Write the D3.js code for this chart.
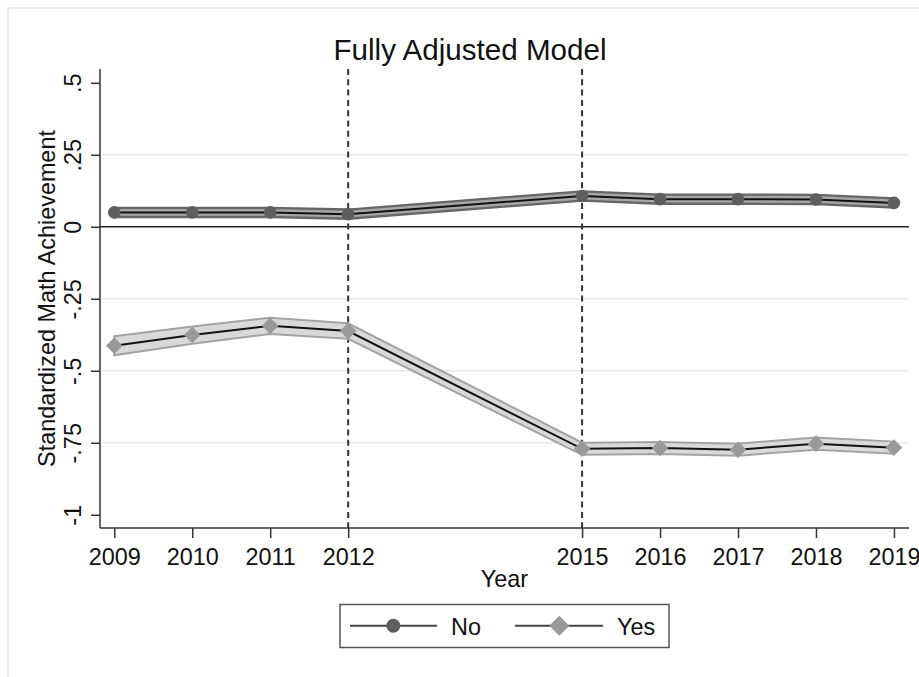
<!DOCTYPE html>
<html>
<head>
<meta charset="utf-8">
<script src="https://cdn.jsdelivr.net/npm/d3@7"></script>
<style>
  html, body { margin: 0; padding: 0; background: #fff; }
  svg { display: block; font-family: "Liberation Sans", Arial, sans-serif; }
</style>
</head>
<body>
<svg id="chart" width="919" height="677"></svg>
<script>
// Survey years and model estimates with confidence bounds
const years = [2009, 2010, 2011, 2012, 2015, 2016, 2017, 2018, 2019];

const noEst = [0.050, 0.050, 0.050, 0.044, 0.107, 0.096, 0.096, 0.095, 0.083];
const noLo  = [0.034, 0.034, 0.034, 0.028, 0.091, 0.080, 0.080, 0.079, 0.067];
const noHi  = [0.066, 0.066, 0.066, 0.060, 0.123, 0.112, 0.112, 0.111, 0.099];

const yesEst = [-0.413, -0.376, -0.344, -0.362, -0.771, -0.768, -0.774, -0.753, -0.767];
const yesLo  = [-0.446, -0.406, -0.372, -0.389, -0.792, -0.789, -0.795, -0.774, -0.788];
const yesHi  = [-0.380, -0.346, -0.316, -0.335, -0.750, -0.747, -0.753, -0.732, -0.746];

const yTicks = [0.5, 0.25, 0, -0.25, -0.5, -0.75, -1];
const yTickLabels = [".5", ".25", "0", "-.25", "-.5", "-.75", "-1"];
const gridValues = [0.25, -0.25, -0.5, -0.75];
const policyYears = [2012, 2015];

const seriesNames = ["No", "Yes"];

const svg = d3.select("#chart");
const W = 919, H = 677;
const FONT = 23.4;

// outer graph region frame
svg.append("rect").attr("x", 8).attr("y", 8).attr("width", W + 20).attr("height", H + 20)
  .attr("fill", "#fff").attr("stroke", "#ececec").attr("stroke-width", 2);

const plot = { left: 100, right: 909, top: 69, bottom: 528 };

const x = d3.scaleLinear().domain([2008.817, 2019.193]).range([plot.left, plot.right]);
const y = d3.scaleLinear().domain([-1.046, 0.548]).range([plot.bottom, plot.top]);

// gridlines
svg.append("g").selectAll("line").data(gridValues).join("line")
  .attr("x1", plot.left).attr("x2", plot.right)
  .attr("y1", d => y(d)).attr("y2", d => y(d))
  .attr("stroke", "#e9e9e9").attr("stroke-width", 1.5);

// zero reference line
svg.append("line")
  .attr("x1", plot.left).attr("x2", plot.right)
  .attr("y1", y(0)).attr("y2", y(0))
  .attr("stroke", "#222").attr("stroke-width", 1.5);

// policy change markers
svg.append("g").selectAll("line").data(policyYears).join("line")
  .attr("x1", d => x(d)).attr("x2", d => x(d))
  .attr("y1", plot.top).attr("y2", plot.bottom)
  .attr("stroke", "#333").attr("stroke-width", 2)
  .attr("stroke-dasharray", "6,4.3");

// axes
const yAxis = d3.axisLeft(y).tickValues(yTicks).tickSize(9).tickPadding(0)
  .tickFormat((d, i) => yTickLabels[i]);
const gy = svg.append("g").attr("transform", `translate(${plot.left},0)`).call(yAxis);
gy.select(".domain").attr("stroke", "#333").attr("stroke-width", 1.5)
  .attr("d", `M0,${plot.top}V${plot.bottom}`);
gy.selectAll(".tick line").attr("stroke", "#333").attr("stroke-width", 1.5);
gy.selectAll(".tick text")
  .attr("x", 0).attr("dy", null)
  .attr("transform", "translate(-19,0) rotate(-90)")
  .attr("text-anchor", "middle")
  .attr("font-size", FONT).attr("fill", "#111")
  .attr("font-family", "Liberation Sans, Arial, sans-serif");

const xAxis = d3.axisBottom(x).tickValues(years).tickSize(10).tickPadding(0)
  .tickFormat(d3.format("d"));
const gx = svg.append("g").attr("transform", `translate(0,${plot.bottom})`).call(xAxis);
gx.select(".domain").attr("stroke", "#333").attr("stroke-width", 1.5)
  .attr("d", `M${plot.left},0H${plot.right}`);
gx.selectAll(".tick line").attr("stroke", "#333").attr("stroke-width", 1.5);
gx.selectAll(".tick text")
  .attr("y", 37).attr("dy", null)
  .attr("font-size", FONT).attr("fill", "#111")
  .attr("font-family", "Liberation Sans, Arial, sans-serif");

// confidence bands and estimate lines
const area = (lo, hi) => d3.area()
  .x((d, i) => x(years[i]))
  .y0((d, i) => y(lo[i]))
  .y1((d, i) => y(hi[i]))(years);
const line = est => d3.line()
  .x((d, i) => x(years[i]))
  .y((d, i) => y(est[i]))(years);

// "Yes" series
svg.append("path").attr("d", area(yesLo, yesHi))
  .attr("fill", "#d9d9d9").attr("stroke", "#a3a3a3").attr("stroke-width", 2);
svg.append("path").attr("d", line(yesEst))
  .attr("fill", "none").attr("stroke", "#111").attr("stroke-width", 2);

// "No" series
svg.append("path").attr("d", area(noLo, noHi))
  .attr("fill", "#a6a6a6").attr("stroke", "#666").attr("stroke-width", 2.3);
svg.append("path").attr("d", line(noEst))
  .attr("fill", "none").attr("stroke", "#111").attr("stroke-width", 2);

const diamond = (cx, cy, r) => `M${cx},${cy - r}L${cx + r},${cy}L${cx},${cy + r}L${cx - r},${cy}Z`;

svg.append("g").selectAll("path").data(yesEst).join("path")
  .attr("d", (d, i) => diamond(x(years[i]), y(d), 8.3))
  .attr("fill", "#999");

svg.append("g").selectAll("circle").data(noEst).join("circle")
  .attr("cx", (d, i) => x(years[i])).attr("cy", d => y(d)).attr("r", 6.3)
  .attr("fill", "#5e5e5e");

// titles
const midPlot = (plot.left + plot.right) / 2;
svg.append("text").attr("x", 470).attr("y", 59.5).attr("text-anchor", "middle")
  .attr("font-size", 29.6).attr("fill", "#111").text("Fully Adjusted Model");
svg.append("text").attr("x", midPlot).attr("y", 586.5).attr("text-anchor", "middle")
  .attr("font-size", FONT).attr("fill", "#111").text("Year");
svg.append("text")
  .attr("transform", `translate(55,${(plot.top + plot.bottom) / 2}) rotate(-90)`)
  .attr("text-anchor", "middle").attr("font-size", FONT).attr("fill", "#111")
  .text("Standardized Math Achievement");

// legend
const lg = svg.append("g");
lg.append("rect").attr("x", 340).attr("y", 604.5).attr("width", 329).attr("height", 43)
  .attr("fill", "#fff").attr("stroke", "#555").attr("stroke-width", 1.5);
const legendItems = [
  { name: seriesNames[0], x0: 350, x1: 437, mx: 393.3, tx: 451, shape: "circle", color: "#5e5e5e" },
  { name: seriesNames[1], x0: 515, x1: 603, mx: 559.3, tx: 617, shape: "diamond", color: "#999" }
];
const ly = 625.8;
legendItems.forEach(it => {
  lg.append("line").attr("x1", it.x0).attr("x2", it.x1).attr("y1", ly).attr("y2", ly)
    .attr("stroke", "#444").attr("stroke-width", 2);
  if (it.shape === "circle") {
    lg.append("circle").attr("cx", it.mx).attr("cy", ly).attr("r", 7).attr("fill", it.color);
  } else {
    lg.append("path").attr("d", diamond(it.mx, ly, 10)).attr("fill", it.color);
  }
  lg.append("text").attr("x", it.tx).attr("y", ly + 9.5).attr("font-size", FONT)
    .attr("fill", "#111").text(it.name);
});
</script>
</body>
</html>
